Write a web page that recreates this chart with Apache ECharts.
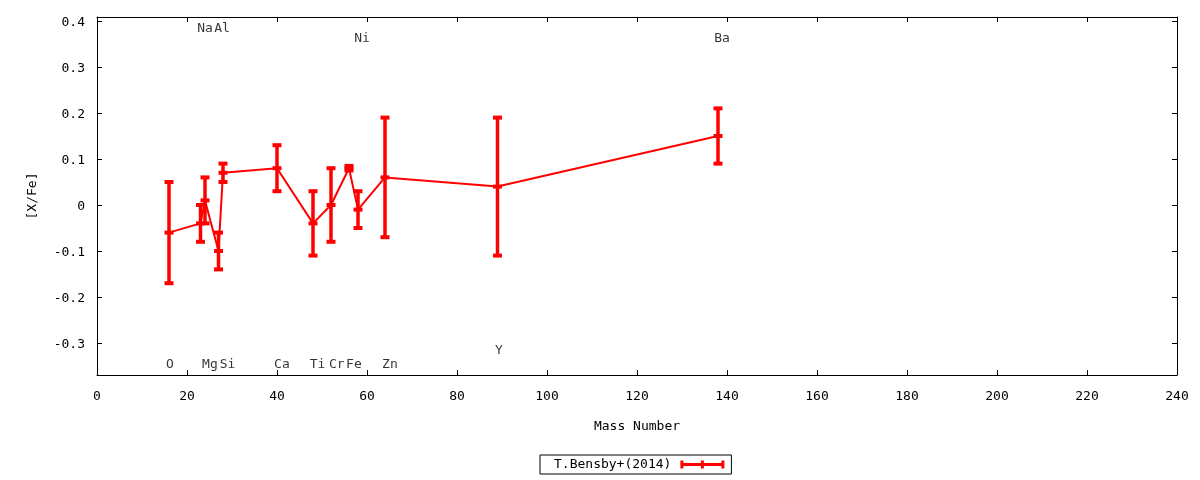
<!DOCTYPE html>
<html>
<head>
<meta charset="utf-8">
<script src="https://cdn.jsdelivr.net/npm/echarts@6/dist/echarts.min.js"></script>
<style>
html, body { margin: 0; padding: 0; background: #fff; }
#chart { width: 1200px; height: 480px; }
</style>
</head>
<body>
<div id="chart"></div>
<script>
// T.Bensby+(2014) abundances
var elements = ['O', 'Na', 'Mg', 'Al', 'Si', 'Ca', 'Ti', 'Cr', 'Fe', 'Ni', 'Zn', 'Y', 'Ba'];
var massNumbers = [16, 23, 24, 27, 28, 40, 48, 52, 56, 58, 64, 89, 138];
var xFe = [-0.06, -0.04, 0.01, -0.10, 0.07, 0.08, -0.04, 0.00, 0.08, -0.01, 0.06, 0.04, 0.15];
var xFeErr = [0.11, 0.04, 0.05, 0.04, 0.02, 0.05, 0.07, 0.08, 0.005, 0.04, 0.13, 0.15, 0.06];

// element name labels (placed in data coordinates like the gnuplot labels)
var labelNames = ['O', 'Mg', 'Si', 'Ca', 'Ti', 'Cr', 'Fe', 'Zn', 'Na', 'Al', 'Ni', 'Y', 'Ba'];
var labelX = [16.2, 25.1, 29.0, 41.1, 49.0, 53.3, 57.1, 65.1, 24.0, 27.8, 58.9, 89.3, 138.9];
var labelY = [-0.343, -0.343, -0.343, -0.343, -0.343, -0.343, -0.343, -0.343, 0.387, 0.387, 0.365, -0.313, 0.365];

var yTicks = [-0.3, -0.2, -0.1, 0, 0.1, 0.2, 0.3, 0.4];

var seriesName = 'T.Bensby+(2014)';
var red = '#ff0000';
var font = 'DejaVu Sans Mono';

var lineData = [];
var errData = [];
for (var i = 0; i < massNumbers.length; i++) {
	lineData.push([massNumbers[i], xFe[i]]);
	errData.push([massNumbers[i], xFe[i] - xFeErr[i], xFe[i] + xFeErr[i], xFe[i]]);
}

var labelData = [];
for (var i = 0; i < labelNames.length; i++) {
	labelData.push({ name: labelNames[i], value: [labelX[i], labelY[i]] });
}

function renderErr(params, api) {
	var x = api.value(0);
	var pLo = api.coord([x, api.value(1)]);
	var pHi = api.coord([x, api.value(2)]);
	var pMid = api.coord([x, api.value(3)]);
	var hw = 4.5;
	var barStyle = { stroke: red, lineWidth: 3.5 };
	var capStyle = { stroke: red, lineWidth: 4 };
	function cap(p) {
		return { type: 'line', shape: { x1: p[0] - hw, y1: p[1], x2: p[0] + hw, y2: p[1] }, style: capStyle };
	}
	return {
		type: 'group',
		children: [
			{ type: 'line', shape: { x1: pLo[0], y1: pLo[1], x2: pHi[0], y2: pHi[1] }, style: barStyle },
			cap(pLo), cap(pHi), cap(pMid)
		]
	};
}

var chart = echarts.init(document.getElementById('chart'));

var options = {
	animation: false,
	textStyle: { fontFamily: font },
	grid: { left: 97, right: 23, top: 17, bottom: 105, show: false },
	legend: {
		data: [{ name: seriesName, icon: 'path://M0,0H3V8H0Z M20.5,0H23.5V8H20.5Z M41,0H44V8H41Z M0,2.5H44V5.5H0Z' }],
		left: 540,
		top: 455,
		align: 'right',
		itemWidth: 44,
		itemHeight: 8,
		padding: [3, 7, 3, 14],
		borderColor: '#000',
		borderWidth: 1,
		borderRadius: 0,
		itemStyle: { color: red },
		textStyle: { fontFamily: font, fontSize: 13, color: '#000', padding: [1, 4, 0, 0] }
	},
	xAxis: [{
		type: 'value',
		min: 0,
		max: 240,
		interval: 20,
		name: 'Mass Number',
		nameLocation: 'middle',
		nameGap: 45,
		nameTextStyle: { fontFamily: font, fontSize: 13, color: '#000' },
		axisLine: { onZero: false, lineStyle: { color: '#000', width: 1 } },
		axisTick: { inside: true, length: 5, lineStyle: { color: '#000' } },
		axisLabel: { margin: 15, fontFamily: font, fontSize: 13, color: '#000' },
		splitLine: { show: false }
	}, {
		type: 'value',
		position: 'top',
		min: 0,
		max: 240,
		interval: 20,
		axisLine: { onZero: false, lineStyle: { color: '#000', width: 1 } },
		axisTick: { inside: true, length: 5, lineStyle: { color: '#000' } },
		axisLabel: { show: false },
		splitLine: { show: false }
	}],
	yAxis: [{
		type: 'value',
		min: -0.3696,
		max: 0.4087,
		name: '[X/Fe]',
		nameLocation: 'middle',
		nameGap: 58,
		nameTextStyle: { fontFamily: font, fontSize: 13, color: '#000' },
		axisLine: { show: true, onZero: false, lineStyle: { color: '#000', width: 1 } },
		axisTick: { show: true, inside: true, length: 5, customValues: yTicks, lineStyle: { color: '#000' } },
		axisLabel: {
			margin: 12,
			fontFamily: font,
			fontSize: 13,
			color: '#000',
			customValues: yTicks,
			formatter: function (v) { return '{a|' + v + '}'; },
			rich: { a: { fontFamily: font, fontSize: 13, color: '#000', padding: [4, 0, 0, 0] } }
		},
		splitLine: { show: false }
	}, {
		type: 'value',
		position: 'right',
		min: -0.3696,
		max: 0.4087,
		axisLine: { show: true, onZero: false, lineStyle: { color: '#000', width: 1 } },
		axisTick: { show: true, inside: true, length: 5, customValues: yTicks, lineStyle: { color: '#000' } },
		axisLabel: { show: false },
		splitLine: { show: false }
	}],
	series: [{
		name: seriesName,
		type: 'line',
		data: lineData,
		symbol: 'none',
		lineStyle: { color: red, width: 2 },
		itemStyle: { color: red },
		z: 2
	}, {
		name: seriesName,
		type: 'custom',
		renderItem: renderErr,
		data: errData,
		encode: { x: 0, y: [1, 2, 3] },
		itemStyle: { color: red },
		z: 3
	}, {
		name: 'labels',
		type: 'scatter',
		data: labelData,
		symbolSize: 0,
		silent: true,
		label: {
			show: true,
			position: 'inside',
			offset: [0, 2],
			formatter: '{b}',
			fontFamily: font,
			fontSize: 13,
			color: '#000'
		},
		z: 4
	}]
};

chart.setOption(options);

window.onresize = function () {
	chart.resize();
};
</script>
</body>
</html>
